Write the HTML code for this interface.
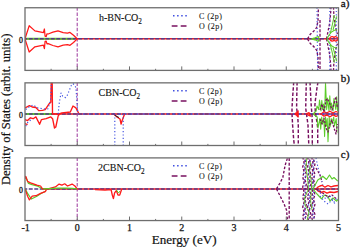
<!DOCTYPE html>
<html><head><meta charset="utf-8"><style>
html,body{margin:0;padding:0;background:#fff;width:350px;height:248px;overflow:hidden}
svg{display:block}
text{font-family:"Liberation Serif",serif;fill:#111}
</style></head><body>
<svg width="350" height="248" viewBox="0 0 350 248">
<defs><clipPath id="c0"><rect x="25.0" y="7.75" width="313.5" height="62.65"/></clipPath><clipPath id="c1"><rect x="25.0" y="82.85" width="313.5" height="62.65"/></clipPath><clipPath id="c2"><rect x="25.0" y="157.9" width="313.5" height="62.65"/></clipPath></defs>
<g clip-path="url(#c0)">
<line x1="77.25" y1="7.45" x2="77.25" y2="70.4" stroke="#b262b2" stroke-width="1.3" stroke-dasharray="3.4,1.7"/>
<line x1="25.0" y1="38.85" x2="338.5" y2="38.85" stroke="#ff1a1a" stroke-width="1.5"/>
<line x1="25.0" y1="38.85" x2="75" y2="38.85" stroke="#5ccc2a" stroke-width="2.0"/>
<line x1="25.0" y1="38.85" x2="338.5" y2="38.85" stroke="#563a8a" stroke-width="1.5" stroke-dasharray="3.95,1.55" stroke-dashoffset="1.725"/>
<polyline points="25.0,38.9 29.2,25.7 34.9,30.9 43.4,32.6 44.4,29.0 45.1,36.3 46.2,36.5 47.0,33.8 48.2,34.0 52.9,32.2 58.0,30.9 63.2,32.6 67.5,33.1 70.0,32.4 73.5,35.2 77.2,38.8" fill="none" stroke="#ff1a1a" stroke-width="1.25" stroke-linejoin="round" />
<polyline points="25.0,38.9 29.2,52.0 34.9,46.8 43.4,45.1 44.4,48.7 45.1,41.4 46.2,41.2 47.0,43.9 48.2,43.7 52.9,45.5 58.0,46.8 63.2,45.1 67.5,44.6 70.0,45.3 73.5,42.5 77.2,38.9" fill="none" stroke="#ff1a1a" stroke-width="1.25" stroke-linejoin="round" />
<polyline points="307.5,38.8 310.3,34.2 313.7,31.2 316.6,27.6 318.0,21.0 318.4,7.0" fill="none" stroke="#781060" stroke-width="1.35" stroke-dasharray="2.6,1.7" stroke-linejoin="round" />
<polyline points="307.5,38.9 310.3,43.5 313.7,46.5 316.6,50.1 318.0,56.7 318.4,70.7" fill="none" stroke="#781060" stroke-width="1.35" stroke-dasharray="2.6,1.7" stroke-linejoin="round" />
<line x1="320.0" y1="20.0" x2="320.0" y2="70.5" stroke="#781060" stroke-width="1.3" stroke-dasharray="3,1.6"/>
<line x1="317.0" y1="7.5" x2="317.6" y2="70.2" stroke="#3f4fe0" stroke-width="1.1" stroke-dasharray="1.2,2.2"/>
<polyline points="311.5,38.9 315.0,37.9 318.3,36.5 319.2,38.9 318.3,41.2 315.0,39.8 311.5,38.9" fill="none" stroke="#5ccc2a" stroke-width="1.2" stroke-linejoin="round" />
<polyline points="326.5,38.9 327.5,34.0 328.5,29.0 329.5,24.0 330.5,15.0 331.0,7.0" fill="none" stroke="#781060" stroke-width="1.3" stroke-dasharray="2.6,1.7" stroke-linejoin="round" />
<polyline points="326.5,38.9 327.5,43.7 328.5,48.7 329.5,53.7 330.5,62.7 331.0,70.7" fill="none" stroke="#781060" stroke-width="1.3" stroke-dasharray="2.6,1.7" stroke-linejoin="round" />
<polyline points="333.5,7.0 334.0,18.0 335.5,28.0 337.5,34.0" fill="none" stroke="#781060" stroke-width="1.3" stroke-dasharray="2.6,1.7" stroke-linejoin="round" />
<polyline points="333.5,70.7 334.0,59.7 335.5,49.7 337.5,43.7" fill="none" stroke="#781060" stroke-width="1.3" stroke-dasharray="2.6,1.7" stroke-linejoin="round" />
<line x1="329.8" y1="7.5" x2="329.8" y2="70.2" stroke="#3f4fe0" stroke-width="1.1" stroke-dasharray="1.2,2.2"/>
<line x1="336.3" y1="7.5" x2="336.3" y2="70.2" stroke="#3f4fe0" stroke-width="1.1" stroke-dasharray="1.2,2.2"/>
<polyline points="327.0,38.9 329.0,35.0 331.5,32.0 334.0,30.5 337.0,29.5" fill="none" stroke="#5ccc2a" stroke-width="1.1" stroke-linejoin="round" />
<polyline points="327.0,38.9 329.0,42.7 331.5,45.7 334.0,47.2 337.0,48.2" fill="none" stroke="#5ccc2a" stroke-width="1.1" stroke-linejoin="round" />
<polyline points="334.3,15.0 332.5,24.0 330.3,33.4" fill="none" stroke="#5ccc2a" stroke-width="1.05" stroke-linejoin="round" />
<polyline points="334.3,62.7 332.5,53.7 330.3,44.3" fill="none" stroke="#5ccc2a" stroke-width="1.05" stroke-linejoin="round" />
<polyline points="336.6,16.3 335.0,23.0 333.0,30.0" fill="none" stroke="#5ccc2a" stroke-width="1.05" stroke-linejoin="round" />
<polyline points="336.6,61.4 335.0,54.7 333.0,47.7" fill="none" stroke="#5ccc2a" stroke-width="1.05" stroke-linejoin="round" />
<path d="M329.5,38.85 C330.5,36.2 333,36.2 334,37.6 C335,36.2 337.6,36.4 337.8,38.85 C337.6,41.3 335,41.5 334,40.1 C333,41.5 330.5,41.5 329.5,38.85 Z" fill="none" stroke="#ff1a1a" stroke-width="1.3"/>
</g>
<g clip-path="url(#c1)">
<line x1="77.25" y1="82.55" x2="77.25" y2="145.5" stroke="#b262b2" stroke-width="1.3" stroke-dasharray="3.4,1.7"/>
<line x1="25.0" y1="113.95" x2="338.5" y2="113.95" stroke="#ff1a1a" stroke-width="1.5"/>
<line x1="25.0" y1="113.95" x2="52.5" y2="113.95" stroke="#5ccc2a" stroke-width="2.0"/>
<line x1="25.0" y1="113.95" x2="338.5" y2="113.95" stroke="#563a8a" stroke-width="1.5" stroke-dasharray="3.95,1.55" stroke-dashoffset="1.725"/>
<line x1="77.25" y1="113.95" x2="338.5" y2="113.95" stroke="#4a5ae0" stroke-width="1.4" stroke-dasharray="1.8,4.2" stroke-dashoffset="0.5"/>
<polyline points="25.0,107.9 29.4,105.6 32.2,107.0 35.9,107.5 38.7,110.6 42.4,110.3 45.2,109.7 48.9,104.1 50.8,102.3 51.2,82.0 52.2,82.0 52.5,114.0 59.1,114.0 61.9,113.0 70.3,112.0 73.0,106.0 75.9,107.9 77.7,111.2 79.0,114.0" fill="none" stroke="#ff1a1a" stroke-width="1.35" stroke-linejoin="round" />
<polyline points="25.0,119.6 27.6,120.6 30.4,117.8 33.1,118.7 35.9,116.9 39.6,124.3 41.5,119.6 46.1,118.7 50.8,116.9 52.6,118.7 54.5,128.0 55.8,127.0 58.2,115.9 59.5,114.0" fill="none" stroke="#ff1a1a" stroke-width="1.35" stroke-linejoin="round" />
<polyline points="25.0,123.5 27.6,124.6" fill="none" stroke="#ff1a1a" stroke-width="1.2" stroke-linejoin="round" />
<polyline points="25.7,109.5 29.0,107.0 33.1,105.0 38.0,108.0 44.0,109.0 48.0,108.8 50.8,98.6 51.5,82.8" fill="none" stroke="#3f4fe0" stroke-width="1.15" stroke-dasharray="1.2,2.2" stroke-linejoin="round" />
<polyline points="58.2,114.0 59.1,104.1 61.0,93.0 62.9,96.7 65.6,97.6 67.5,94.9 71.2,85.6 73.1,83.7 75.9,87.4 77.7,111.6 78.5,114.0" fill="none" stroke="#3f4fe0" stroke-width="1.15" stroke-dasharray="1.2,2.2" stroke-linejoin="round" />
<polyline points="25.7,126.1 28.0,122.0 31.3,119.6" fill="none" stroke="#3f4fe0" stroke-width="1.15" stroke-dasharray="1.2,2.2" stroke-linejoin="round" />
<polyline points="113.7,114.0 117.0,117.0 120.0,119.0 121.1,124.0 122.0,121.0 124.6,114.0" fill="none" stroke="#ff1a1a" stroke-width="1.35" stroke-linejoin="round" />
<polyline points="113.7,114.0 116.0,116.0 119.0,117.5" fill="none" stroke="#222" stroke-width="1.0" stroke-linejoin="round" />
<line x1="114.8" y1="114.0" x2="114.8" y2="145.5" stroke="#3f4fe0" stroke-width="1.15" stroke-dasharray="1.2,2.2"/>
<line x1="123.2" y1="114.0" x2="123.2" y2="145.5" stroke="#3f4fe0" stroke-width="1.15" stroke-dasharray="1.2,2.2"/>
<polyline points="293.7,82.0 292.8,95.0 292.0,108.0 292.0,114.0 292.6,125.0 293.7,140.0 294.5,146.0" fill="none" stroke="#781060" stroke-width="1.45" stroke-dasharray="3.4,1.9" stroke-linejoin="round" />
<polyline points="297.1,82.0 296.8,95.0 296.6,108.0 297.5,114.0 298.3,125.0 298.3,146.0" fill="none" stroke="#781060" stroke-width="1.45" stroke-dasharray="3.4,1.9" stroke-linejoin="round" />
<polyline points="306.3,82.0 306.0,95.0 305.7,108.0 306.5,114.0 308.0,125.0 308.6,140.0 308.8,146.0" fill="none" stroke="#781060" stroke-width="1.45" stroke-dasharray="3.4,1.9" stroke-linejoin="round" />
<polyline points="310.0,82.0 310.9,100.0 311.4,108.0 312.0,114.0 312.3,125.0 312.3,146.0" fill="none" stroke="#781060" stroke-width="1.45" stroke-dasharray="3.4,1.9" stroke-linejoin="round" />
<polyline points="318.0,82.0 317.1,87.0 315.4,100.0 314.9,105.0 315.5,114.0 317.0,122.0 317.7,128.0 317.7,146.0" fill="none" stroke="#781060" stroke-width="1.45" stroke-dasharray="3.4,1.9" stroke-linejoin="round" />
<polygon points="294.5,113.95 298.3,110.6 298.3,117.3" fill="#ff1a1a" stroke="#ff1a1a" stroke-width="0.8" stroke-linejoin="round"/>
<polyline points="305.5,114.0 309.0,112.6 310.5,116.2 305.5,114.0" fill="none" stroke="#ff1a1a" stroke-width="1.25" stroke-linejoin="round" />
<polyline points="313.0,114.0 316.2,111.0 317.0,106.0 318.7,109.5 319.5,100.0 321.0,111.0 321.8,100.4 322.7,109.5 323.5,104.0 324.7,111.0 325.5,82.5 326.7,109.5 327.5,98.0 329.0,111.0 329.8,95.8 330.7,109.5 331.5,103.0 333.1,111.0 333.9,98.6 335.8,109.5 336.6,96.7 337.6,111.0 338.4,102.0" fill="none" stroke="#5ccc2a" stroke-width="1.05" stroke-linejoin="round" />
<polyline points="313.0,114.0 317.2,117.0 318.0,128.0 319.9,118.5 320.7,129.3 321.7,117.0 322.5,124.0 323.8,118.5 324.6,136.6 325.5,117.0 326.3,126.0 327.2,118.5 328.0,141.7 329.2,117.0 330.0,127.0 331.2,118.5 332.0,124.0 333.7,117.0 334.5,126.0 336.2,118.5 337.0,132.7" fill="none" stroke="#5ccc2a" stroke-width="1.05" stroke-linejoin="round" />
<polyline points="320.0,110.0 322.0,104.0 324.0,112.0 326.0,100.0 327.4,98.6 330.0,104.0 332.0,110.0 334.0,104.0 335.7,96.7 337.5,108.0" fill="none" stroke="#781060" stroke-width="1.25" stroke-dasharray="2.2,1.5" stroke-linejoin="round" />
<polyline points="320.0,119.0 322.0,124.0 324.0,118.0 326.0,128.0 328.0,132.0 330.0,124.0 332.0,120.0 334.0,128.0 336.0,134.0 337.5,124.0" fill="none" stroke="#781060" stroke-width="1.25" stroke-dasharray="2.2,1.5" stroke-linejoin="round" />
<polyline points="321.0,114.0 324.0,111.8 327.0,112.8 330.0,111.2 333.0,113.0 336.0,111.5 338.5,112.5" fill="none" stroke="#ff1a1a" stroke-width="1.3" stroke-linejoin="round" />
<polyline points="321.0,114.0 324.0,116.1 327.0,115.1 330.0,116.7 333.0,114.9 336.0,116.4 338.5,115.4" fill="none" stroke="#ff1a1a" stroke-width="1.3" stroke-linejoin="round" />
<polyline points="322.0,114.0 326.0,113.0 330.0,115.5 334.0,113.2 338.0,115.0" fill="none" stroke="#3f4fe0" stroke-width="1.1" stroke-dasharray="1.2,2.2" stroke-linejoin="round" />
</g>
<g clip-path="url(#c2)">
<line x1="77.25" y1="157.6" x2="77.25" y2="220.55" stroke="#b262b2" stroke-width="1.3" stroke-dasharray="3.4,1.7"/>
<line x1="43" y1="188.9" x2="338.5" y2="188.9" stroke="#ff1a1a" stroke-width="1.5"/>
<line x1="25.0" y1="188.9" x2="338.5" y2="188.9" stroke="#563a8a" stroke-width="1.5" stroke-dasharray="3.95,1.55" stroke-dashoffset="1.725"/>
<polyline points="25.0,178.5 25.9,177.2 28.5,183.4 32.0,184.6 36.9,185.8 40.6,187.8 43.0,188.9" fill="none" stroke="#5ccc2a" stroke-width="1.25" stroke-linejoin="round" />
<polyline points="25.0,188.9 27.6,193.4 31.3,199.0 36.9,196.2 41.0,193.5 46.0,191.0" fill="none" stroke="#5ccc2a" stroke-width="1.25" stroke-linejoin="round" />
<polyline points="25.0,178.6 25.7,176.3 27.6,181.4 31.3,183.2 36.9,185.1 40.6,186.0 42.4,188.8 48.0,188.8 55.4,186.9 59.1,184.1 61.9,185.1 64.7,183.8 67.5,186.0 72.1,184.1 74.9,186.0 77.3,188.9" fill="none" stroke="#ff1a1a" stroke-width="1.25" stroke-linejoin="round" />
<polyline points="25.0,188.9 25.7,190.6 27.6,196.2 29.4,199.9 32.2,196.2 35.9,195.7 40.6,193.4 45.2,191.6 47.0,188.9" fill="none" stroke="#ff1a1a" stroke-width="1.25" stroke-linejoin="round" />
<polyline points="43.0,188.9 50.0,188.6 58.0,188.2 66.0,188.2 72.0,188.3 77.0,188.9" fill="none" stroke="#5ccc2a" stroke-width="1.2" stroke-linejoin="round" />
<polyline points="95.0,189.6 105.0,190.2 111.1,189.6 112.3,195.1 113.4,198.6 114.6,192.9 116.3,190.6 118.0,195.1 119.7,195.1 121.4,190.0 122.0,188.9" fill="none" stroke="#ff1a1a" stroke-width="1.35" stroke-linejoin="round" />
<polyline points="116.5,190.0 118.5,193.0 120.0,191.0" fill="none" stroke="#5ccc2a" stroke-width="1.0" stroke-linejoin="round" />
<polyline points="276.5,188.9 280.0,183.0 282.8,177.5 285.2,165.0 287.5,158.0" fill="none" stroke="#781060" stroke-width="1.35" stroke-dasharray="2.6,1.7" stroke-linejoin="round" />
<polyline points="276.5,188.9 280.2,196.2 284.0,203.8 286.5,210.0 287.5,220.5" fill="none" stroke="#781060" stroke-width="1.35" stroke-dasharray="2.6,1.7" stroke-linejoin="round" />
<line x1="289.2" y1="158.0" x2="289.2" y2="220.5" stroke="#781060" stroke-width="1.35" stroke-dasharray="3,1.8"/>
<polyline points="302.7,157.0 304.1,162.0 302.7,167.0 304.1,172.0 302.7,177.0 304.1,182.0 302.7,187.0 304.1,192.0 302.7,197.0 304.1,202.0 302.7,207.0 304.1,212.0 302.7,217.0 304.1,222.0" fill="none" stroke="#781060" stroke-width="1.35" stroke-dasharray="2.6,1.6" stroke-linejoin="round" />
<polyline points="304.9,159.5 306.3,164.5 304.9,169.5 306.3,174.5 304.9,179.5 306.3,184.5 304.9,189.5 306.3,194.5 304.9,199.5 306.3,204.5 304.9,209.5 306.3,214.5 304.9,219.5" fill="none" stroke="#781060" stroke-width="1.35" stroke-dasharray="2.6,1.6" stroke-linejoin="round" />
<polyline points="307.5,157.0 308.9,162.0 307.5,167.0 308.9,172.0 307.5,177.0 308.9,182.0 307.5,187.0 308.9,192.0 307.5,197.0 308.9,202.0 307.5,207.0 308.9,212.0 307.5,217.0 308.9,222.0" fill="none" stroke="#781060" stroke-width="1.35" stroke-dasharray="2.6,1.6" stroke-linejoin="round" />
<polyline points="309.5,159.5 310.9,164.5 309.5,169.5 310.9,174.5 309.5,179.5 310.9,184.5 309.5,189.5 310.9,194.5 309.5,199.5 310.9,204.5 309.5,209.5 310.9,214.5 309.5,219.5" fill="none" stroke="#781060" stroke-width="1.35" stroke-dasharray="2.6,1.6" stroke-linejoin="round" />
<polyline points="311.6,157.0 313.0,162.0 311.6,167.0 313.0,172.0 311.6,177.0 313.0,182.0 311.6,187.0 313.0,192.0 311.6,197.0 313.0,202.0 311.6,207.0 313.0,212.0 311.6,217.0 313.0,222.0" fill="none" stroke="#781060" stroke-width="1.35" stroke-dasharray="2.6,1.6" stroke-linejoin="round" />
<polyline points="313.5,159.5 314.9,164.5 313.5,169.5 314.9,174.5 313.5,179.5 314.9,184.5 313.5,189.5 314.9,194.5 313.5,199.5 314.9,204.5 313.5,209.5 314.9,214.5 313.5,219.5" fill="none" stroke="#781060" stroke-width="1.35" stroke-dasharray="2.6,1.6" stroke-linejoin="round" />
<polyline points="303.8,157.0 305.4,161.0 303.8,165.0 305.4,169.0 303.8,173.0 305.4,177.0 303.8,181.0 305.4,185.0 303.8,189.0 305.4,193.0 303.8,197.0 305.4,201.0 303.8,205.0 305.4,209.0 303.8,213.0 305.4,217.0 303.8,221.0" fill="none" stroke="#3f4fe0" stroke-width="1.1" stroke-dasharray="1.2,2.2" stroke-linejoin="round" />
<polyline points="308.4,157.0 310.0,161.0 308.4,165.0 310.0,169.0 308.4,173.0 310.0,177.0 308.4,181.0 310.0,185.0 308.4,189.0 310.0,193.0 308.4,197.0 310.0,201.0 308.4,205.0 310.0,209.0 308.4,213.0 310.0,217.0 308.4,221.0" fill="none" stroke="#3f4fe0" stroke-width="1.1" stroke-dasharray="1.2,2.2" stroke-linejoin="round" />
<polyline points="312.5,157.0 314.1,161.0 312.5,165.0 314.1,169.0 312.5,173.0 314.1,177.0 312.5,181.0 314.1,185.0 312.5,189.0 314.1,193.0 312.5,197.0 314.1,201.0 312.5,205.0 314.1,209.0 312.5,213.0 314.1,217.0 312.5,221.0" fill="none" stroke="#3f4fe0" stroke-width="1.1" stroke-dasharray="1.2,2.2" stroke-linejoin="round" />
<polyline points="316.0,158.0 318.5,170.0 321.0,178.0 323.0,186.0" fill="none" stroke="#3f4fe0" stroke-width="1.1" stroke-dasharray="1.2,2.2" stroke-linejoin="round" />
<polyline points="316.0,168.0 320.0,175.0 322.0,182.0" fill="none" stroke="#781060" stroke-width="1.2" stroke-dasharray="2.2,1.5" stroke-linejoin="round" />
<polyline points="306.7,158.0 306.0,168.0 307.5,178.0 308.5,189.0 304.5,198.0 305.0,205.0 309.0,212.0 307.0,221.0" fill="none" stroke="#5ccc2a" stroke-width="0.9" stroke-linejoin="round" />
<polyline points="310.5,162.0 309.5,172.0 311.5,182.0 311.5,189.0 310.5,200.0 312.0,210.0" fill="none" stroke="#5ccc2a" stroke-width="0.8" stroke-linejoin="round" />
<polyline points="313.0,189.0 317.8,180.0 320.0,178.5 322.8,176.2 326.5,179.5 329.5,175.0 332.0,179.0 334.0,177.5 337.8,181.2" fill="none" stroke="#5ccc2a" stroke-width="1.15" stroke-linejoin="round" />
<polyline points="313.0,189.0 317.0,194.0 321.5,198.8 324.5,195.0 327.8,196.2 330.0,201.0 333.0,198.0 336.5,201.2 338.5,199.0" fill="none" stroke="#5ccc2a" stroke-width="1.15" stroke-linejoin="round" />
<polyline points="316.0,188.9 317.8,187.2 320.0,186.0 322.0,185.3 325.0,187.2 328.0,185.5 331.0,186.8 334.0,186.0 338.0,185.5" fill="none" stroke="#ff1a1a" stroke-width="1.35" stroke-linejoin="round" />
<polyline points="316.0,188.9 317.8,190.8 321.0,192.5 324.0,191.5 327.0,193.2 330.0,192.0 334.0,192.5 338.0,191.5" fill="none" stroke="#ff1a1a" stroke-width="1.35" stroke-linejoin="round" />
<polyline points="316.0,188.9 320.0,191.0 324.0,194.0 328.0,197.0 332.0,195.0 336.0,198.5" fill="none" stroke="#781060" stroke-width="1.2" stroke-dasharray="2.2,1.5" stroke-linejoin="round" />
<polyline points="318.0,190.0 322.0,195.0 326.0,199.0 330.0,196.0 334.0,202.0 338.0,197.0" fill="none" stroke="#3f4fe0" stroke-width="1.05" stroke-dasharray="1.2,2.2" stroke-linejoin="round" />
<polyline points="320.0,196.0 324.0,201.0 328.0,204.0 332.0,200.0 336.0,205.0" fill="none" stroke="#3f4fe0" stroke-width="1.05" stroke-dasharray="1.2,2.2" stroke-linejoin="round" />
</g>
<rect x="25.0" y="7.75" width="313.5" height="62.65" fill="none" stroke="#6e6e6e" stroke-width="1.3"/>
<line x1="51.12" y1="70.4" x2="51.12" y2="68.80000000000001" stroke="#6e6e6e" stroke-width="1"/>
<line x1="77.25" y1="70.4" x2="77.25" y2="66.4" stroke="#6e6e6e" stroke-width="1"/>
<line x1="103.38" y1="70.4" x2="103.38" y2="68.80000000000001" stroke="#6e6e6e" stroke-width="1"/>
<line x1="129.50" y1="70.4" x2="129.50" y2="66.4" stroke="#6e6e6e" stroke-width="1"/>
<line x1="155.62" y1="70.4" x2="155.62" y2="68.80000000000001" stroke="#6e6e6e" stroke-width="1"/>
<line x1="181.75" y1="70.4" x2="181.75" y2="66.4" stroke="#6e6e6e" stroke-width="1"/>
<line x1="207.88" y1="70.4" x2="207.88" y2="68.80000000000001" stroke="#6e6e6e" stroke-width="1"/>
<line x1="234.00" y1="70.4" x2="234.00" y2="66.4" stroke="#6e6e6e" stroke-width="1"/>
<line x1="260.12" y1="70.4" x2="260.12" y2="68.80000000000001" stroke="#6e6e6e" stroke-width="1"/>
<line x1="286.25" y1="70.4" x2="286.25" y2="66.4" stroke="#6e6e6e" stroke-width="1"/>
<line x1="312.38" y1="70.4" x2="312.38" y2="68.80000000000001" stroke="#6e6e6e" stroke-width="1"/>
<text x="23" y="42.5" font-size="7.8" text-anchor="end" stroke="#111" stroke-width="0.3">0</text>
<rect x="25.0" y="82.85" width="313.5" height="62.65" fill="none" stroke="#6e6e6e" stroke-width="1.3"/>
<line x1="51.12" y1="145.5" x2="51.12" y2="143.9" stroke="#6e6e6e" stroke-width="1"/>
<line x1="77.25" y1="145.5" x2="77.25" y2="141.5" stroke="#6e6e6e" stroke-width="1"/>
<line x1="103.38" y1="145.5" x2="103.38" y2="143.9" stroke="#6e6e6e" stroke-width="1"/>
<line x1="129.50" y1="145.5" x2="129.50" y2="141.5" stroke="#6e6e6e" stroke-width="1"/>
<line x1="155.62" y1="145.5" x2="155.62" y2="143.9" stroke="#6e6e6e" stroke-width="1"/>
<line x1="181.75" y1="145.5" x2="181.75" y2="141.5" stroke="#6e6e6e" stroke-width="1"/>
<line x1="207.88" y1="145.5" x2="207.88" y2="143.9" stroke="#6e6e6e" stroke-width="1"/>
<line x1="234.00" y1="145.5" x2="234.00" y2="141.5" stroke="#6e6e6e" stroke-width="1"/>
<line x1="260.12" y1="145.5" x2="260.12" y2="143.9" stroke="#6e6e6e" stroke-width="1"/>
<line x1="286.25" y1="145.5" x2="286.25" y2="141.5" stroke="#6e6e6e" stroke-width="1"/>
<line x1="312.38" y1="145.5" x2="312.38" y2="143.9" stroke="#6e6e6e" stroke-width="1"/>
<text x="23" y="117.5" font-size="7.8" text-anchor="end" stroke="#111" stroke-width="0.3">0</text>
<rect x="25.0" y="157.9" width="313.5" height="62.65" fill="none" stroke="#6e6e6e" stroke-width="1.3"/>
<line x1="51.12" y1="220.55" x2="51.12" y2="218.95000000000002" stroke="#6e6e6e" stroke-width="1"/>
<line x1="77.25" y1="220.55" x2="77.25" y2="216.55" stroke="#6e6e6e" stroke-width="1"/>
<line x1="103.38" y1="220.55" x2="103.38" y2="218.95000000000002" stroke="#6e6e6e" stroke-width="1"/>
<line x1="129.50" y1="220.55" x2="129.50" y2="216.55" stroke="#6e6e6e" stroke-width="1"/>
<line x1="155.62" y1="220.55" x2="155.62" y2="218.95000000000002" stroke="#6e6e6e" stroke-width="1"/>
<line x1="181.75" y1="220.55" x2="181.75" y2="216.55" stroke="#6e6e6e" stroke-width="1"/>
<line x1="207.88" y1="220.55" x2="207.88" y2="218.95000000000002" stroke="#6e6e6e" stroke-width="1"/>
<line x1="234.00" y1="220.55" x2="234.00" y2="216.55" stroke="#6e6e6e" stroke-width="1"/>
<line x1="260.12" y1="220.55" x2="260.12" y2="218.95000000000002" stroke="#6e6e6e" stroke-width="1"/>
<line x1="286.25" y1="220.55" x2="286.25" y2="216.55" stroke="#6e6e6e" stroke-width="1"/>
<line x1="312.38" y1="220.55" x2="312.38" y2="218.95000000000002" stroke="#6e6e6e" stroke-width="1"/>
<text x="23" y="192.5" font-size="7.8" text-anchor="end" stroke="#111" stroke-width="0.3">0</text>
<text x="98.9" y="21.4" font-size="10" stroke="#111" stroke-width="0.12">h-BN-CO<tspan font-size="7.2" dy="3.0">2</tspan></text>
<text x="98.6" y="96.1" font-size="10" stroke="#111" stroke-width="0.12">CBN-CO<tspan font-size="7.2" dy="3.0">2</tspan></text>
<text x="98.1" y="170.7" font-size="10" stroke="#111" stroke-width="0.12">2CBN-CO<tspan font-size="7.2" dy="3.0">2</tspan></text>
<line x1="173" y1="15.7" x2="187.5" y2="15.7" stroke="#3f4fe0" stroke-width="1.5" stroke-dasharray="1.5,2.6"/>
<line x1="171.7" y1="26.0" x2="187.5" y2="26.0" stroke="#781060" stroke-width="1.4" stroke-dasharray="5.8,3.2"/>
<text x="199" y="18.9" font-size="8" letter-spacing="0.45" stroke="#111" stroke-width="0.08">C (2p)</text>
<text x="199" y="29.2" font-size="8" letter-spacing="0.45" stroke="#111" stroke-width="0.08">O (2p)</text>
<line x1="173" y1="90.7" x2="187.5" y2="90.7" stroke="#3f4fe0" stroke-width="1.5" stroke-dasharray="1.5,2.6"/>
<line x1="171.7" y1="101.0" x2="187.5" y2="101.0" stroke="#781060" stroke-width="1.4" stroke-dasharray="5.8,3.2"/>
<text x="199" y="93.9" font-size="8" letter-spacing="0.45" stroke="#111" stroke-width="0.08">C (2p)</text>
<text x="199" y="104.2" font-size="8" letter-spacing="0.45" stroke="#111" stroke-width="0.08">O (2p)</text>
<line x1="173" y1="165.7" x2="187.5" y2="165.7" stroke="#3f4fe0" stroke-width="1.5" stroke-dasharray="1.5,2.6"/>
<line x1="171.7" y1="176.0" x2="187.5" y2="176.0" stroke="#781060" stroke-width="1.4" stroke-dasharray="5.8,3.2"/>
<text x="199" y="168.9" font-size="8" letter-spacing="0.45" stroke="#111" stroke-width="0.08">C (2p)</text>
<text x="199" y="179.2" font-size="8" letter-spacing="0.45" stroke="#111" stroke-width="0.08">O (2p)</text>
<text x="340.8" y="7.3" font-size="11" stroke="#111" stroke-width="0.3">a)</text>
<text x="340.8" y="81.8" font-size="11" stroke="#111" stroke-width="0.3">b)</text>
<text x="340.8" y="157.6" font-size="11" stroke="#111" stroke-width="0.3">c)</text>
<text x="25.60" y="231.2" font-size="10" text-anchor="middle" stroke="#111" stroke-width="0.25">-1</text>
<text x="77.25" y="231.2" font-size="10" text-anchor="middle" stroke="#111" stroke-width="0.25">0</text>
<text x="129.50" y="231.2" font-size="10" text-anchor="middle" stroke="#111" stroke-width="0.25">1</text>
<text x="181.75" y="231.2" font-size="10" text-anchor="middle" stroke="#111" stroke-width="0.25">2</text>
<text x="234.00" y="231.2" font-size="10" text-anchor="middle" stroke="#111" stroke-width="0.25">3</text>
<text x="286.25" y="231.2" font-size="10" text-anchor="middle" stroke="#111" stroke-width="0.25">4</text>
<text x="338.50" y="231.2" font-size="10" text-anchor="middle" stroke="#111" stroke-width="0.25">5</text>
<text x="184.2" y="244.2" font-size="13.1" text-anchor="middle" stroke="#111" stroke-width="0.2">Energy (eV)</text>
<text transform="translate(9.6,109.4) rotate(-90)" x="0" y="0" font-size="12.6" text-anchor="middle" stroke="#111" stroke-width="0.2">Density of States (arbit. units)</text>
</svg>
</body></html>
